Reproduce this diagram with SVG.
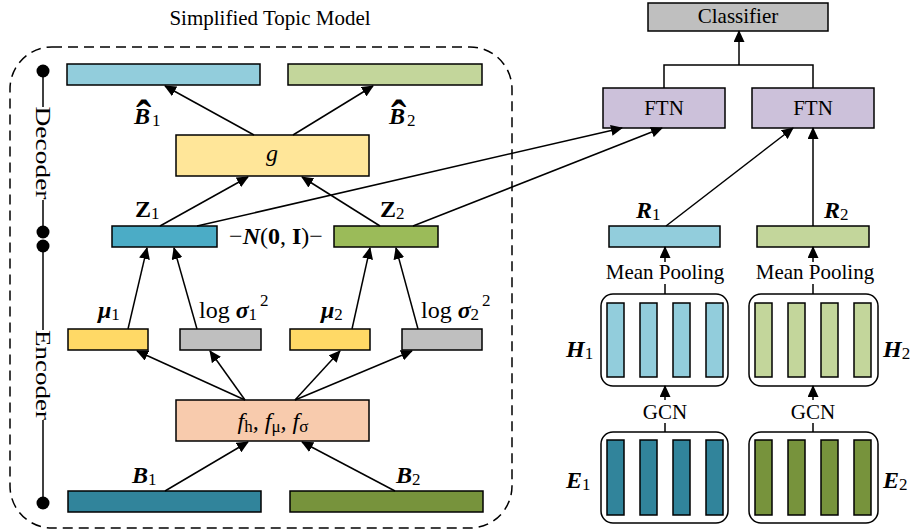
<svg xmlns="http://www.w3.org/2000/svg" width="915" height="532" viewBox="0 0 915 532">
<defs>
<marker id="ah" markerUnits="userSpaceOnUse" markerWidth="12" markerHeight="11" viewBox="0 0 12 11" refX="11" refY="5.5" orient="auto"><path d="M0,0 L12,5.5 L0,11 z" fill="#000"/></marker>
</defs>
<style>
.bar{stroke:#000;stroke-width:1.5}
.box{fill:#fff;stroke:#000;stroke-width:1.5}
.t{font-family:"Liberation Serif","Times New Roman",serif;font-size:21px;fill:#000}
.m{font-family:"Liberation Serif","Times New Roman",serif;font-size:24px;fill:#000}
.bi{font-weight:bold;font-style:italic}
.b{font-weight:bold}
.i{font-style:italic}
.s{font-size:17px;font-weight:normal;font-style:normal}
.hat{font-size:46px;font-weight:bold;font-style:normal}
.ln{stroke:#000;stroke-width:1.5;fill:none}
.ar{stroke:#000;stroke-width:1.5;fill:none;marker-end:url(#ah)}
.dot{fill:#000}
</style>
<rect width="915" height="532" fill="#fff"/>

<text class="t" x="270" y="25" text-anchor="middle">Simplified Topic Model</text>
<rect x="10" y="47" width="502" height="481" rx="42" ry="42" fill="none" stroke="#000" stroke-width="1.5" stroke-dasharray="10 6"/>

<g id="ladder">
<circle class="dot" cx="43" cy="71" r="6.5"/>
<line class="ln" x1="43" y1="71" x2="43" y2="107"/>
<text class="t" transform="translate(43,153) rotate(90)" text-anchor="middle" dominant-baseline="central" textLength="93" lengthAdjust="spacingAndGlyphs">Decoder</text>
<line class="ln" x1="43" y1="200" x2="43" y2="232"/>
<circle class="dot" cx="43" cy="232" r="6.5"/>
<circle class="dot" cx="43" cy="246" r="6.5"/>
<line class="ln" x1="43" y1="246" x2="43" y2="330"/>
<text class="t" transform="translate(43,375) rotate(90)" text-anchor="middle" dominant-baseline="central" textLength="90" lengthAdjust="spacingAndGlyphs">Encoder</text>
<line class="ln" x1="43" y1="420" x2="43" y2="503"/>
<circle class="dot" cx="43" cy="503" r="6.5"/>
</g>

<g id="Bhat1"><rect class="bar" x="67" y="64" width="193" height="21" fill="#92cddc"/>
<text class="m" x="134" y="124"><tspan class="bi">B</tspan><tspan class="hat" x="136" dy="8">ˆ</tspan><tspan class="s" x="152" dy="-6">1</tspan></text></g>
<g id="Bhat2"><rect class="bar" x="288" y="64" width="194" height="21" fill="#c3d69b"/>
<text class="m" x="389" y="124"><tspan class="bi">B</tspan><tspan class="hat" x="391" dy="8">ˆ</tspan><tspan class="s" x="407" dy="-6">2</tspan></text></g>
<g id="g"><rect class="bar" x="176" y="135" width="193" height="41" fill="#ffe699"/>
<text class="m i" x="272" y="161" text-anchor="middle">g</text></g>
<g id="Z1"><rect class="bar" x="112" y="226" width="105" height="21" fill="#4bacc6"/>
<text class="m" x="135" y="217"><tspan class="b">Z</tspan><tspan class="s" dy="2">1</tspan></text></g>
<g id="Z2"><rect class="bar" x="334" y="226" width="104" height="21" fill="#9bbb59"/>
<text class="m" x="380" y="217"><tspan class="b">Z</tspan><tspan class="s" dy="2">2</tspan></text></g>
<g id="prior"><text class="m" x="276" y="244" text-anchor="middle">−<tspan class="bi">N</tspan>(<tspan class="b">0</tspan>, <tspan class="b">I</tspan>)−</text></g>
<g id="mu1"><rect class="bar" x="68" y="329" width="80" height="21" fill="#ffd966"/>
<text class="m" x="98" y="318"><tspan class="bi">μ</tspan><tspan class="s" dy="2">1</tspan></text></g>
<g id="ls1"><rect class="bar" x="180" y="329" width="81" height="21" fill="#bfbfbf"/>
<text class="m" x="199" y="318">log <tspan class="bi">σ</tspan><tspan class="s" dy="2">1</tspan><tspan class="s" dx="3" dy="-14">2</tspan></text></g>
<g id="mu2"><rect class="bar" x="290" y="329" width="80" height="21" fill="#ffd966"/>
<text class="m" x="321" y="318"><tspan class="bi">μ</tspan><tspan class="s" dy="2">2</tspan></text></g>
<g id="ls2"><rect class="bar" x="402" y="329" width="80" height="21" fill="#bfbfbf"/>
<text class="m" x="421" y="318">log <tspan class="bi">σ</tspan><tspan class="s" dy="2">2</tspan><tspan class="s" dx="3" dy="-14">2</tspan></text></g>
<g id="f"><rect class="bar" x="176" y="400" width="193" height="41" fill="#f8cbad"/>
<text class="m i" x="273" y="429" text-anchor="middle">f<tspan class="s i" dy="3">h</tspan><tspan dy="-3">, f</tspan><tspan class="s i" dy="3">μ</tspan><tspan dy="-3">, f</tspan><tspan class="s i" dy="3">σ</tspan></text></g>
<g id="B1"><rect class="bar" x="68" y="491" width="193" height="21" fill="#31849b"/>
<text class="m" x="132" y="483"><tspan class="bi">B</tspan><tspan class="s" dy="2">1</tspan></text></g>
<g id="B2"><rect class="bar" x="290" y="491" width="193" height="21" fill="#77933c"/>
<text class="m" x="396" y="483"><tspan class="bi">B</tspan><tspan class="s" dy="2">2</tspan></text></g>

<g id="classifier"><rect class="bar" x="648" y="3" width="180" height="28" fill="#bfbfbf"/>
<text class="t" x="738" y="23" text-anchor="middle">Classifier</text></g>
<g id="FTN1"><rect class="bar" x="603" y="88" width="122" height="40" fill="#ccc1da"/>
<text class="t" x="664" y="115" text-anchor="middle">FTN</text></g>
<g id="FTN2"><rect class="bar" x="752" y="88" width="122" height="40" fill="#ccc1da"/>
<text class="t" x="813" y="115" text-anchor="middle">FTN</text></g>
<g id="R1"><rect class="bar" x="609" y="226" width="111" height="21" fill="#92cddc"/>
<text class="m" x="636" y="218"><tspan class="bi">R</tspan><tspan class="s" dy="2">1</tspan></text></g>
<g id="R2"><rect class="bar" x="757" y="226" width="112" height="21" fill="#c3d69b"/>
<text class="m" x="824" y="218"><tspan class="bi">R</tspan><tspan class="s" dy="2">2</tspan></text></g>
<text class="t" x="665" y="279" text-anchor="middle">Mean Pooling</text>
<text class="t" x="815" y="279" text-anchor="middle">Mean Pooling</text>
<g id="H1"><rect class="box" x="601" y="294" width="127" height="92" rx="12"/>
<g class="bar" fill="#92cddc"><rect x="607" y="303" width="17" height="74"/><rect x="640" y="303" width="17" height="74"/><rect x="673" y="303" width="17" height="74"/><rect x="706" y="303" width="17" height="74"/></g>
<text class="m" x="566" y="357"><tspan class="bi">H</tspan><tspan class="s" dy="2">1</tspan></text></g>
<g id="H2"><rect class="box" x="749" y="294" width="129" height="92" rx="12"/>
<g class="bar" fill="#c3d69b"><rect x="755" y="303" width="17" height="74"/><rect x="788" y="303" width="17" height="74"/><rect x="821" y="303" width="17" height="74"/><rect x="854" y="303" width="17" height="74"/></g>
<text class="m" x="883" y="357"><tspan class="bi">H</tspan><tspan class="s" dy="2">2</tspan></text></g>
<text class="t" x="665" y="419" text-anchor="middle">GCN</text>
<text class="t" x="813" y="419" text-anchor="middle">GCN</text>
<g id="E1"><rect class="box" x="601" y="432" width="127" height="91" rx="12"/>
<g class="bar" fill="#31849b"><rect x="607" y="440" width="17" height="75"/><rect x="640" y="440" width="17" height="75"/><rect x="673" y="440" width="17" height="75"/><rect x="706" y="440" width="17" height="75"/></g>
<text class="m" x="566" y="488"><tspan class="bi">E</tspan><tspan class="s" dy="2">1</tspan></text></g>
<g id="E2"><rect class="box" x="749" y="432" width="129" height="91" rx="12"/>
<g class="bar" fill="#77933c"><rect x="755" y="440" width="17" height="75"/><rect x="788" y="440" width="17" height="75"/><rect x="821" y="440" width="17" height="75"/><rect x="854" y="440" width="17" height="75"/></g>
<text class="m" x="883" y="488"><tspan class="bi">E</tspan><tspan class="s" dy="2">2</tspan></text></g>

<g id="connectors">
<line class="ar" x1="254" y1="135" x2="165" y2="86"/>
<line class="ar" x1="293" y1="135" x2="373" y2="86"/>
<line class="ar" x1="160" y1="226" x2="248" y2="177"/>
<line class="ar" x1="380" y1="226" x2="302" y2="177"/>
<line class="ar" x1="128" y1="329" x2="147" y2="248"/>
<line class="ar" x1="197" y1="329" x2="174" y2="248"/>
<line class="ar" x1="352" y1="329" x2="370" y2="248"/>
<line class="ar" x1="418" y1="329" x2="396" y2="248"/>
<line class="ar" x1="245" y1="400" x2="137" y2="351"/>
<line class="ar" x1="245" y1="400" x2="210" y2="351"/>
<line class="ar" x1="295" y1="400" x2="340" y2="351"/>
<line class="ar" x1="295" y1="400" x2="412" y2="351"/>
<line class="ar" x1="165" y1="491" x2="248" y2="442"/>
<line class="ar" x1="395" y1="491" x2="302" y2="442"/>
<line class="ar" x1="197" y1="226" x2="622" y2="128"/>
<line class="ar" x1="413" y1="226" x2="662" y2="128"/>
<line class="ar" x1="666" y1="226" x2="793" y2="128"/>
<line class="ar" x1="813" y1="226" x2="813" y2="128"/>
<polyline class="ln" points="664,88 664,65 813,65 813,88"/>
<line class="ar" x1="739" y1="65" x2="739" y2="31"/>
<line class="ar" x1="665" y1="262" x2="665" y2="247"/>
<line class="ln" x1="665" y1="284" x2="665" y2="294"/>
<line class="ar" x1="813" y1="262" x2="813" y2="247"/>
<line class="ln" x1="813" y1="284" x2="813" y2="294"/>
<line class="ar" x1="665" y1="400" x2="665" y2="386"/>
<line class="ln" x1="665" y1="423" x2="665" y2="432"/>
<line class="ar" x1="813" y1="400" x2="813" y2="386"/>
<line class="ln" x1="813" y1="423" x2="813" y2="432"/>
</g>
</svg>
